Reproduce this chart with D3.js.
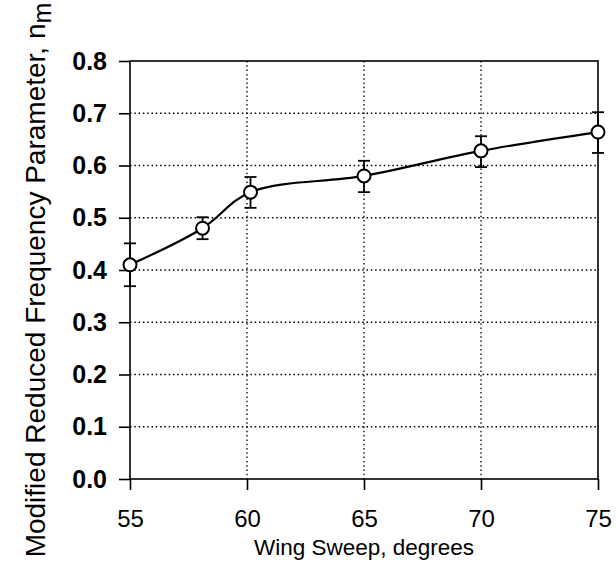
<!DOCTYPE html>
<html>
<head>
<meta charset="utf-8">
<script src="https://cdn.jsdelivr.net/npm/d3@7"></script>
<style>
  html, body { margin: 0; padding: 0; background: #fff; }
  svg { display: block; }
  text { font-family: "Liberation Sans", Arial, sans-serif; fill: #000; }
</style>
</head>
<body>
<svg id="chart" width="616" height="580"></svg>
<script>
// Wing sweep (degrees) and measured modified reduced frequency parameter
const sweep   = [55, 58.1, 60.15, 65, 70, 75];
const nm      = [0.41, 0.48, 0.549, 0.58, 0.628, 0.664];
const nmLow   = [0.369, 0.459, 0.519, 0.549, 0.597, 0.624];
const nmHigh  = [0.451, 0.501, 0.578, 0.609, 0.656, 0.702];
const xTicks  = [55, 60, 65, 70, 75];
const yTicks  = [0, 0.1, 0.2, 0.3, 0.4, 0.5, 0.6, 0.7, 0.8];

const svg = d3.select("#chart");
const L = 130, R = 598, T = 61, B = 479;

const x = d3.scaleLinear().domain([55, 75]).range([L, R]);
const y = d3.scaleLinear().domain([0, 0.8]).range([B, T]);

const points = sweep.map((s, i) => ({ s, v: nm[i], lo: nmLow[i], hi: nmHigh[i] }));

// dotted grid
const grid = svg.append("g").attr("stroke", "#000").attr("stroke-width", 1.3)
  .attr("stroke-dasharray", "1.5,2.8");
grid.selectAll("line.gy").data(yTicks.slice(1, -1)).join("line")
  .attr("x1", L).attr("x2", R).attr("y1", d => y(d)).attr("y2", d => y(d));
grid.selectAll("line.gx").data(xTicks.slice(1, -1)).join("line")
  .attr("y1", T).attr("y2", B).attr("x1", d => x(d)).attr("x2", d => x(d));

// axes
const yAxis = d3.axisLeft(y).tickValues(yTicks).tickFormat(d3.format(".1f"))
  .tickSizeInner(11).tickSizeOuter(0).tickPadding(12);
const gy = svg.append("g").attr("transform", `translate(${L},0)`).call(yAxis);
gy.selectAll("text").attr("font-size", 25).attr("font-weight", "bold")
  .attr("font-family", "Liberation Sans, Arial, sans-serif");

const xAxis = d3.axisBottom(x).tickValues(xTicks).tickFormat(d3.format("d"))
  .tickSizeInner(11).tickSizeOuter(0).tickPadding(20);
const gx = svg.append("g").attr("transform", `translate(0,${B})`).call(xAxis);
gx.selectAll("text").attr("font-size", 24)
  .attr("font-family", "Liberation Sans, Arial, sans-serif");

svg.selectAll(".domain").remove();
svg.selectAll(".tick line").attr("stroke", "#000").attr("stroke-width", 1.6);

// frame
svg.append("rect").attr("x", L).attr("y", T).attr("width", R - L).attr("height", B - T)
  .attr("fill", "none").attr("stroke", "#000").attr("stroke-width", 1.6);

// smoothed trend line
const line = d3.line().x(d => x(d.s)).y(d => y(d.v)).curve(d3.curveCatmullRom.alpha(0.5));
svg.append("path").datum(points).attr("d", line)
  .attr("fill", "none").attr("stroke", "#000").attr("stroke-width", 2.2);

// error bars
const eb = svg.append("g").attr("stroke", "#000").attr("stroke-width", 1.8);
const cap = 6;
eb.selectAll("line.v").data(points).join("line")
  .attr("x1", d => x(d.s)).attr("x2", d => x(d.s))
  .attr("y1", d => y(d.lo)).attr("y2", d => y(d.hi));
eb.selectAll("line.hi").data(points).join("line")
  .attr("x1", d => x(d.s) - cap).attr("x2", d => x(d.s) + cap)
  .attr("y1", d => y(d.hi)).attr("y2", d => y(d.hi));
eb.selectAll("line.lo").data(points).join("line")
  .attr("x1", d => x(d.s) - cap).attr("x2", d => x(d.s) + cap)
  .attr("y1", d => y(d.lo)).attr("y2", d => y(d.lo));

// open circle markers
svg.append("g").selectAll("circle").data(points).join("circle")
  .attr("cx", d => x(d.s)).attr("cy", d => y(d.v)).attr("r", 6.5)
  .attr("fill", "#fff").attr("stroke", "#000").attr("stroke-width", 2);

// axis titles
svg.append("text").attr("x", 364).attr("y", 555).attr("text-anchor", "middle")
  .attr("font-size", 22.5).text("Wing Sweep, degrees");

const yt = svg.append("text").attr("transform", "translate(45,280) rotate(-90)")
  .attr("text-anchor", "middle").attr("font-size", 28);
yt.append("tspan").text("Modified Reduced Frequency Parameter, n");
yt.append("tspan").attr("dy", 6).attr("font-size", 25).text("m");
</script>
</body>
</html>
